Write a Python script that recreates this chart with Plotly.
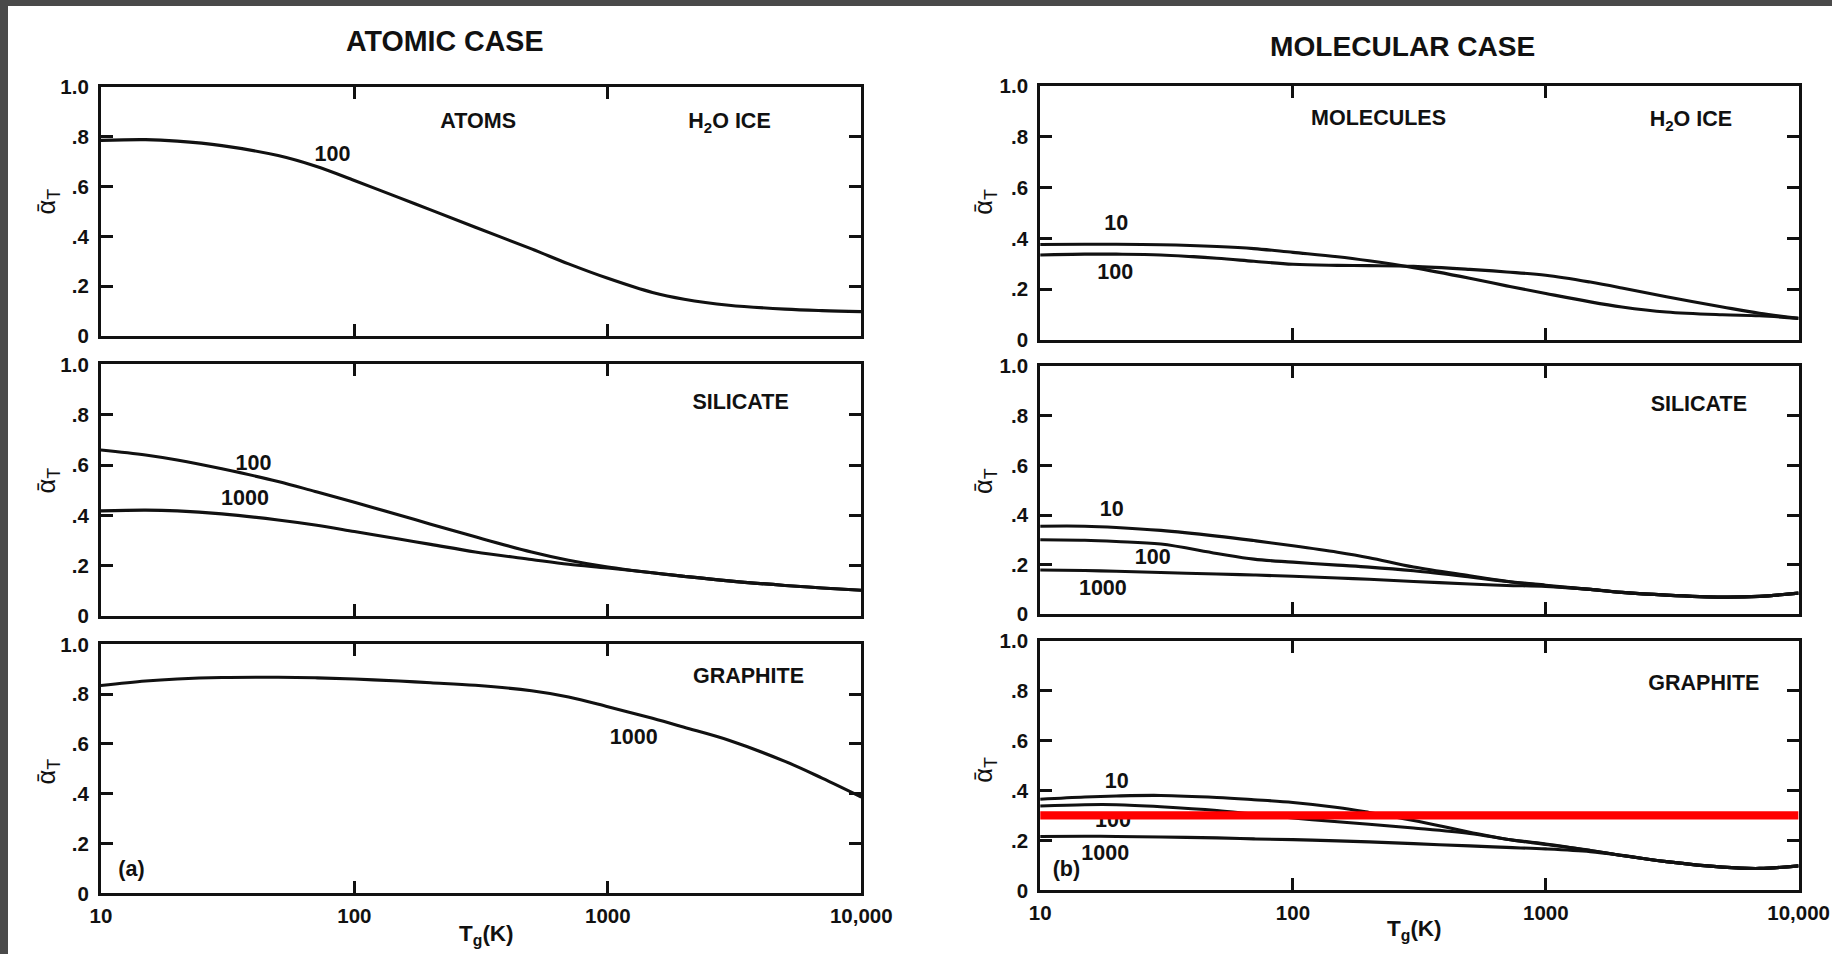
import plotly.graph_objects as go

# Gas temperature grid (K)
T_GAS = [10, 15, 20, 30, 50, 70, 100, 150, 200, 300, 500, 700, 1000, 1500, 2000, 3000, 5000, 7000, 10000]

# (a) atomic case -- curves labelled by grain temperature parameter
ATOM_ICE_100 = [0.786, 0.789, 0.783, 0.765, 0.725, 0.683, 0.625, 0.556, 0.507, 0.437, 0.350, 0.290, 0.232, 0.175, 0.148, 0.124, 0.108, 0.102, 0.098]
ATOM_SIL_100 = [0.660, 0.640, 0.620, 0.585, 0.535, 0.495, 0.452, 0.402, 0.365, 0.315, 0.255, 0.222, 0.195, 0.172, 0.158, 0.140, 0.122, 0.112, 0.103]
ATOM_SIL_1000 = [0.418, 0.421, 0.418, 0.406, 0.382, 0.362, 0.336, 0.306, 0.285, 0.255, 0.225, 0.206, 0.191, 0.172, 0.158, 0.140, 0.122, 0.112, 0.103]
ATOM_GRA_1000 = [0.835, 0.853, 0.861, 0.867, 0.868, 0.866, 0.861, 0.853, 0.846, 0.836, 0.814, 0.789, 0.750, 0.703, 0.667, 0.615, 0.530, 0.463, 0.387]

# (b) molecular case
MOL_ICE_10 = [0.376, 0.377, 0.377, 0.375, 0.368, 0.360, 0.345, 0.328, 0.312, 0.285, 0.243, 0.213, 0.183, 0.150, 0.130, 0.110, 0.099, 0.095, 0.085]
MOL_ICE_100 = [0.335, 0.338, 0.338, 0.335, 0.322, 0.310, 0.298, 0.294, 0.293, 0.290, 0.278, 0.268, 0.255, 0.228, 0.205, 0.170, 0.130, 0.105, 0.085]
MOL_SIL_10 = [0.355, 0.355, 0.350, 0.338, 0.315, 0.297, 0.276, 0.250, 0.228, 0.190, 0.155, 0.133, 0.117, 0.100, 0.088, 0.077, 0.069, 0.072, 0.085]
MOL_SIL_100 = [0.300, 0.298, 0.293, 0.283, 0.245, 0.222, 0.210, 0.198, 0.190, 0.175, 0.150, 0.132, 0.115, 0.100, 0.088, 0.077, 0.069, 0.072, 0.085]
MOL_SIL_1000 = [0.178, 0.176, 0.173, 0.168, 0.162, 0.158, 0.153, 0.146, 0.141, 0.132, 0.122, 0.116, 0.112, 0.100, 0.088, 0.077, 0.069, 0.072, 0.085]
MOL_GRA_10 = [0.365, 0.374, 0.378, 0.380, 0.372, 0.363, 0.352, 0.332, 0.312, 0.280, 0.233, 0.205, 0.186, 0.160, 0.140, 0.115, 0.093, 0.088, 0.098]
MOL_GRA_100 = [0.338, 0.343, 0.343, 0.335, 0.320, 0.305, 0.290, 0.275, 0.265, 0.250, 0.228, 0.205, 0.184, 0.160, 0.140, 0.115, 0.093, 0.088, 0.098]
MOL_GRA_1000 = [0.216, 0.217, 0.216, 0.214, 0.210, 0.206, 0.203, 0.198, 0.194, 0.187, 0.178, 0.172, 0.166, 0.155, 0.140, 0.115, 0.093, 0.088, 0.098]

# Horizontal marker level in the molecular graphite panel
MARKER_LEVEL = 0.30

Y_TICKS = [0, 0.2, 0.4, 0.6, 0.8, 1.0]
Y_TICK_TEXT = ["0", ".2", ".4", ".6", ".8", "1.0"]
X_TICKS = [10, 100, 1000, 10000]
X_TICK_TEXT = ["10", "100", "1000", "10,000"]

W, H = 1855, 958
FONT = "Liberation Sans, Arial, Helvetica, sans-serif"
INK = "#111111"


def px_x(p):
    return p / W


def px_y(p):
    return 1 - p / H


# panel frames in figure pixels: (left, right, top, bottom)
FRAMES = [
    (92, 870, 77, 332),      # atoms / ice
    (92, 870, 361, 619),     # atoms / silicate
    (92, 870, 648, 903),     # atoms / graphite
    (1053, 1829, 76, 336),   # molecules / ice
    (1053, 1829, 363, 617),  # molecules / silicate
    (1053, 1829, 644, 900),  # molecules / graphite
]

PANEL_CURVES = [
    [ATOM_ICE_100],
    [ATOM_SIL_100, ATOM_SIL_1000],
    [ATOM_GRA_1000],
    [MOL_ICE_10, MOL_ICE_100],
    [MOL_SIL_10, MOL_SIL_100, MOL_SIL_1000],
    [MOL_GRA_10, MOL_GRA_100, MOL_GRA_1000],
]

# in-panel texts: (text, x in K, y)
PANEL_TEXT = [
    [("ATOMS", 308, 0.856), ("H<sub>2</sub>O ICE", 3020, 0.856), ("100", 82, 0.724)],
    [("SILICATE", 3340, 0.845), ("100", 40, 0.603), ("1000", 37, 0.464)],
    [("GRAPHITE", 3590, 0.868), ("1000", 1265, 0.62), ("(a)", 13.2, 0.092)],
    [("MOLECULES", 218, 0.867), ("H<sub>2</sub>O ICE", 3750, 0.863), ("10", 20, 0.455), ("100", 19.8, 0.263)],
    [("SILICATE", 4030, 0.843), ("10", 19.2, 0.418), ("100", 27.9, 0.225), ("1000", 17.7, 0.10)],
    [("GRAPHITE", 4220, 0.825), ("10", 20.1, 0.43), ("100", 19.4, 0.275), ("1000", 18.1, 0.143), ("(b)", 12.7, 0.08)],
]

fig = go.Figure()
layout_axes = {}

for i, (frame, curves, texts) in enumerate(zip(FRAMES, PANEL_CURVES, PANEL_TEXT)):
    n = i + 1
    xa = "x" if n == 1 else f"x{n}"
    ya = "y" if n == 1 else f"y{n}"
    left, right, top, bottom = frame
    bottom_row = n in (3, 6)

    for ys in curves:
        fig.add_trace(go.Scatter(
            x=T_GAS, y=ys, xaxis=xa, yaxis=ya, mode="lines",
            line=dict(color=INK, width=3.1, shape="spline", smoothing=1.0),
            showlegend=False, hoverinfo="skip"))

    fig.add_trace(go.Scatter(
        x=[t[1] for t in texts], y=[t[2] for t in texts], text=[t[0] for t in texts],
        xaxis=xa, yaxis=ya, mode="text", textposition="middle center",
        textfont=dict(family=FONT, size=21.5, color=INK, weight="bold"),
        showlegend=False, hoverinfo="skip"))

    axis_common = dict(showline=True, linecolor=INK, linewidth=3, mirror="allticks",
                       ticks="inside", ticklen=12, tickwidth=2.5, tickcolor=INK,
                       showgrid=False, zeroline=False, fixedrange=True,
                       tickfont=dict(family=FONT, size=20.5, color=INK, weight="bold"))
    layout_axes["xaxis" if n == 1 else f"xaxis{n}"] = dict(
        axis_common, type="log", range=[1, 4], domain=[px_x(left), px_x(right)],
        anchor=ya, tickvals=X_TICKS, ticktext=X_TICK_TEXT,
        showticklabels=bottom_row, ticklabelstandoff=2)
    layout_axes["yaxis" if n == 1 else f"yaxis{n}"] = dict(
        axis_common, range=[0, 1], domain=[px_y(bottom), px_y(top)],
        anchor=xa, tickvals=Y_TICKS, ticktext=Y_TICK_TEXT, ticklabelstandoff=5)

# horizontal marker across the molecular graphite panel
fig.add_trace(go.Scatter(
    x=[10, 10000], y=[MARKER_LEVEL, MARKER_LEVEL], xaxis="x6", yaxis="y6",
    mode="lines", line=dict(color="#ff0000", width=8.2),
    showlegend=False, hoverinfo="skip"))

annotations = []


def paper_text(text, x, y, size, angle=0, bold=True):
    annotations.append(dict(
        text=text, x=px_x(x), y=px_y(y), xref="paper", yref="paper",
        showarrow=False, xanchor="center", yanchor="middle", textangle=angle,
        font=dict(family=FONT, size=size, color=INK, weight="bold" if bold else "normal")))


paper_text("ATOMIC CASE", 444, 30, 28.6)
paper_text("MOLECULAR CASE", 1424, 35, 28.1)
for (x, y) in [(38, 194), (38, 480), (38, 778), (997, 194), (997, 480), (997, 776)]:
    paper_text("\u1fb1<sub>T</sub>", x, y, 25.5, angle=-90, bold=False)
paper_text("T<sub>g</sub>(K)", 487, 946, 22.5)
paper_text("T<sub>g</sub>(K)", 1436, 941, 22.5)

fig.update_layout(
    width=W, height=H, margin=dict(l=0, r=0, t=0, b=0),
    paper_bgcolor="white", plot_bgcolor="white",
    showlegend=False, annotations=annotations,
    **layout_axes)

# dark strips along the page's left and top edges
PAGE_STYLE = """
document.body.style.background = '#ffffff';
[['8px', '100%'], ['100%', '6px']].forEach(function (r) {
    var d = document.createElement('div');
    d.style.cssText = 'position:fixed;left:0;top:0;width:' + r[0] + ';height:' + r[1] +
        ';background:#4a4a4a;z-index:1000;pointer-events:none';
    document.body.appendChild(d);
});
"""

fig.write_html("out.html", config={"displayModeBar": False}, post_script=PAGE_STYLE)
